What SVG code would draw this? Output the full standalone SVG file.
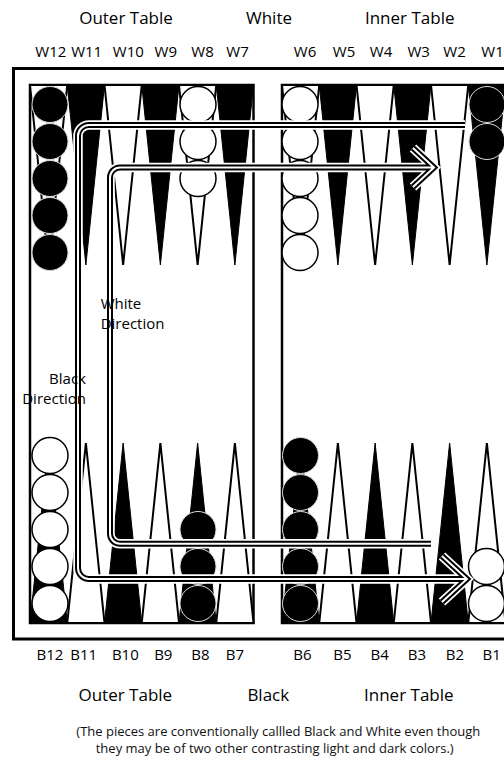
<svg xmlns="http://www.w3.org/2000/svg" xmlns:xlink="http://www.w3.org/1999/xlink" width="504" height="759" viewBox="0 0 504 759">
<style>
text{font-family:"Open Sans","Noto Sans","DejaVu Sans",sans-serif;fill:#000}
.title{font-size:17px;text-anchor:middle}
.lbl{font-size:15px;text-anchor:middle}
.dir{font-size:15px}
.note{font-size:13px;text-anchor:middle;fill:#111}
.frame{fill:#fff;stroke:#000;stroke-width:3}
.half{fill:#fff;stroke:#000;stroke-width:2.5}
.tw{fill:#fff;stroke:#000;stroke-width:2;stroke-linejoin:miter}
.tb{fill:#000;stroke:#000;stroke-width:1}
.cb{fill:#000;stroke:#ddd;stroke-width:1}
.cw{fill:#fff;stroke:#000;stroke-width:1.5}
.halo{fill:none;stroke:#fff;stroke-width:9.5}
.core{fill:none;stroke:#000;stroke-width:6}
.mid{fill:none;stroke:#fff;stroke-width:2}
</style>
<defs>
<path id="blackArrow" d="M465 125 H89 A11 11 0 0 0 78 136 V568 A11 11 0 0 0 89 579 H467 M442 556 L467 579 L442 602"/>
<path id="whiteArrow" d="M431 543.7 H120 A10 10 0 0 1 110 533.7 V177.5 A10 10 0 0 1 120 167.5 H434 M413 148 L434 167.5 L413 187"/>
</defs>
<rect width="504" height="759" fill="#fff"/>
<g id="board">
<rect class="frame" x="13.5" y="68.5" width="520" height="570.5"/>
<rect class="half" x="30" y="85" width="223.5" height="538"/>
<rect class="half" x="282" y="85" width="223.5" height="538"/>
</g>
<g id="points-top">
<polygon class="tw" points="30,85 67.25,85 48.63,265"/>
<polygon class="tb" points="67.25,85 104.5,85 85.88,265"/>
<polygon class="tw" points="104.5,85 141.75,85 123.13,265"/>
<polygon class="tb" points="141.75,85 179,85 160.38,265"/>
<polygon class="tw" points="179,85 216.25,85 197.63,265"/>
<polygon class="tb" points="216.25,85 253.5,85 234.88,265"/>
<polygon class="tw" points="282,85 319.25,85 300.63,265"/>
<polygon class="tb" points="319.25,85 356.5,85 337.88,265"/>
<polygon class="tw" points="356.5,85 393.75,85 375.13,265"/>
<polygon class="tb" points="393.75,85 431,85 412.38,265"/>
<polygon class="tw" points="431,85 468.25,85 449.63,265"/>
<polygon class="tb" points="468.25,85 505.5,85 486.88,265"/>
</g>
<g id="points-bottom">
<polygon class="tb" points="30,623 67.25,623 48.63,443"/>
<polygon class="tw" points="67.25,623 104.5,623 85.88,443"/>
<polygon class="tb" points="104.5,623 141.75,623 123.13,443"/>
<polygon class="tw" points="141.75,623 179,623 160.38,443"/>
<polygon class="tb" points="179,623 216.25,623 197.63,443"/>
<polygon class="tw" points="216.25,623 253.5,623 234.88,443"/>
<polygon class="tb" points="282,623 319.25,623 300.63,443"/>
<polygon class="tw" points="319.25,623 356.5,623 337.88,443"/>
<polygon class="tb" points="356.5,623 393.75,623 375.13,443"/>
<polygon class="tw" points="393.75,623 431,623 412.38,443"/>
<polygon class="tb" points="431,623 468.25,623 449.63,443"/>
<polygon class="tw" points="468.25,623 505.5,623 486.88,443"/>
</g>
<g id="checkers-W12">
<circle class="cb" cx="50" cy="104.5" r="18"/><circle class="cb" cx="50" cy="141.5" r="18"/><circle class="cb" cx="50" cy="178.5" r="18"/><circle class="cb" cx="50" cy="215.5" r="18"/><circle class="cb" cx="50" cy="252.5" r="18"/>
</g>
<g id="checkers-W8">
<circle class="cw" cx="198" cy="104.5" r="18"/><circle class="cw" cx="198" cy="141.5" r="18"/><circle class="cw" cx="198" cy="178.5" r="18"/>
</g>
<g id="checkers-W6">
<circle class="cw" cx="300" cy="104.5" r="18"/><circle class="cw" cx="300" cy="141.5" r="18"/><circle class="cw" cx="300" cy="178.5" r="18"/><circle class="cw" cx="300" cy="215.5" r="18"/><circle class="cw" cx="300" cy="252.5" r="18"/>
</g>
<g id="checkers-W1">
<circle class="cb" cx="487" cy="104.5" r="18"/><circle class="cb" cx="487" cy="141.5" r="18"/>
</g>
<g id="checkers-B12">
<circle class="cw" cx="50" cy="455.5" r="18"/><circle class="cw" cx="50" cy="492.5" r="18"/><circle class="cw" cx="50" cy="529.5" r="18"/><circle class="cw" cx="50" cy="566.5" r="18"/><circle class="cw" cx="50" cy="603.5" r="18"/>
</g>
<g id="checkers-B8">
<circle class="cb" cx="198" cy="529.5" r="18"/><circle class="cb" cx="198" cy="566.5" r="18"/><circle class="cb" cx="198" cy="603.5" r="18"/>
</g>
<g id="checkers-B6">
<circle class="cb" cx="300.5" cy="455.5" r="18"/><circle class="cb" cx="300.5" cy="492.5" r="18"/><circle class="cb" cx="300.5" cy="529.5" r="18"/><circle class="cb" cx="300.5" cy="566.5" r="18"/><circle class="cb" cx="300.5" cy="603.5" r="18"/>
</g>
<g id="checkers-B1">
<circle class="cw" cx="486.5" cy="566.5" r="18"/><circle class="cw" cx="486.5" cy="603.5" r="18"/>
</g>
<g id="connectors">
<use xlink:href="#blackArrow" href="#blackArrow" class="halo"/>
<use xlink:href="#whiteArrow" href="#whiteArrow" class="halo"/>
<use xlink:href="#blackArrow" href="#blackArrow" class="core"/>
<use xlink:href="#whiteArrow" href="#whiteArrow" class="core"/>
<use xlink:href="#blackArrow" href="#blackArrow" class="mid"/>
<use xlink:href="#whiteArrow" href="#whiteArrow" class="mid"/>
</g>
<g id="labels">
<text class="title" x="126" y="24">Outer Table</text>
<text class="title" x="269" y="24">White</text>
<text class="title" x="409.7" y="24">Inner Table</text>
<text class="lbl" x="50.8" y="57.3">W12</text>
<text class="lbl" x="86.7" y="57.3">W11</text>
<text class="lbl" x="128.3" y="57.3">W10</text>
<text class="lbl" x="165.8" y="57.3">W9</text>
<text class="lbl" x="202.5" y="57.3">W8</text>
<text class="lbl" x="237.5" y="57.3">W7</text>
<text class="lbl" x="305" y="57.3">W6</text>
<text class="lbl" x="344" y="57.3">W5</text>
<text class="lbl" x="381" y="57.3">W4</text>
<text class="lbl" x="418.7" y="57.3">W3</text>
<text class="lbl" x="454.5" y="57.3">W2</text>
<text class="lbl" x="492.5" y="57.3">W1</text>
<text class="dir" x="100.7" y="309.3">White</text>
<text class="dir" x="100.7" y="329.3">Direction</text>
<text class="dir" x="86" y="384.3" text-anchor="end">Black</text>
<text class="dir" x="86" y="404" text-anchor="end">Direction</text>
<text class="lbl" x="50" y="660">B12</text>
<text class="lbl" x="83.7" y="660">B11</text>
<text class="lbl" x="125.3" y="660">B10</text>
<text class="lbl" x="163.3" y="660">B9</text>
<text class="lbl" x="200.5" y="660">B8</text>
<text class="lbl" x="235" y="660">B7</text>
<text class="lbl" x="302.5" y="660">B6</text>
<text class="lbl" x="342.5" y="660">B5</text>
<text class="lbl" x="379.7" y="660">B4</text>
<text class="lbl" x="417" y="660">B3</text>
<text class="lbl" x="455" y="660">B2</text>
<text class="lbl" x="491.7" y="660">B1</text>
<text class="title" x="125.3" y="701">Outer Table</text>
<text class="title" x="268.3" y="701">Black</text>
<text class="title" x="408.8" y="701">Inner Table</text>
<text class="note" x="278.3" y="735.5">(The pieces are conventionally callled Black and White even though</text>
<text class="note" x="274.7" y="753">they may be of two other contrasting light and dark colors.)</text>
</g>
</svg>
